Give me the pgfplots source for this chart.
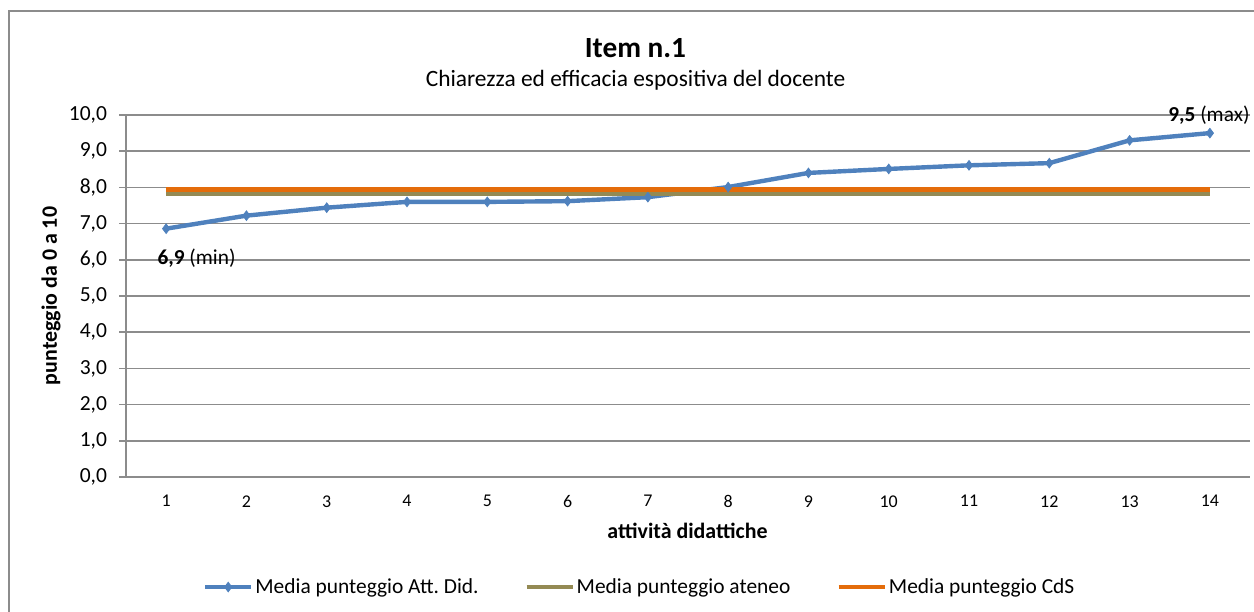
\documentclass[border=0pt]{standalone}
\usepackage{fontspec}
\setmainfont{Carlito}
\usepackage{pgfplots}
\pgfplotsset{compat=1.18}
\definecolor{serieblu}{HTML}{4F81BD}
\definecolor{ateneo}{HTML}{948A54}
\definecolor{cds}{HTML}{E46C0A}
\definecolor{griglia}{HTML}{8C8C8C}
\frenchspacing

\begin{document}
\begin{tikzpicture}[x=1bp,y=1bp]
\useasboundingbox (0,0) rectangle (627,305.5);
% cornice esterna
\draw[griglia, line width=0.75bp] (4.5,-2) -- (4.5,300) -- (630,300);
% titoli
\node[font=\fontsize{14.7}{17}\selectfont\bfseries] at (317.75,281.5) {Item n.1};
\node[font=\fontsize{11.75}{14}\selectfont] at (317.75,265.5) {Chiarezza ed efficacia espositiva del docente};
\node[font=\fontsize{11}{13}\selectfont\bfseries, rotate=90] at (25.5,157.5) {punteggio da 0 a 10};
\node[font=\fontsize{11}{13}\selectfont\bfseries] at (343.75,40) {attività didattiche};

\begin{axis}[
  at={(63bp,67bp)}, anchor=south west,
  scale only axis, width=562bp, height=181bp,
  xmin=0.5, xmax=14.5, ymin=0, ymax=10,
  clip=false,
  ytick={0,1,...,10},
  xtick={1,...,14},
  minor xtick={0.5,1.5,...,14.5},
  tick align=outside,
  xtick style={draw=none},
  minor tick style={griglia, line width=0.75bp},
  minor tick length=3bp,
  ytick style={griglia, line width=0.75bp},
  major tick length=3.5bp,
  axis x line*=bottom, axis y line*=left,
  axis line style={griglia, line width=0.75bp, -},
  ymajorgrids, grid style={griglia, line width=0.75bp},
  /pgf/number format/assume math mode=true,
  y tick label style={font=\fontsize{10.8}{13}\selectfont, xshift=-2.5bp,
    /pgf/number format/.cd, fixed, fixed zerofill, precision=1, use comma},
  x tick label style={font=\fontsize{9}{10}\selectfont, yshift=-2.2bp},
  legend style={at={(0.457,-0.304)}, anchor=center, draw=none, fill=none,
    legend columns=3, font=\fontsize{10.75}{13}\selectfont,
    nodes={inner sep=1bp},
    /tikz/every even column/.append style={column sep=22bp}},
  legend image code/.code={\draw[mark repeat=2,mark phase=2,#1] plot coordinates {(0bp,0bp) (11.5bp,0bp) (23bp,0bp)};},
]
\addplot[serieblu, line width=2.2bp, mark=diamond*, mark size=2.4bp, mark options={solid, line width=0.4bp}] coordinates {
  (1,6.86) (2,7.22) (3,7.44) (4,7.60) (5,7.60) (6,7.62) (7,7.73)
  (8,8.01) (9,8.40) (10,8.51) (11,8.61) (12,8.67) (13,9.30) (14,9.50)
};
\addlegendentry{Media punteggio Att.\ Did.}
\addplot[ateneo, line width=2bp] coordinates {(1,7.81) (14,7.81)};
\addlegendentry{Media punteggio ateneo}
\addplot[cds, line width=2.3bp] coordinates {(1,7.94) (14,7.94)};
\addlegendentry{Media punteggio CdS}
\node[anchor=west, inner sep=0pt, font=\fontsize{10.7}{13}\selectfont, xshift=-4.5bp, yshift=-14.8bp] at (axis cs:1,6.86) {\textbf{6,9} (min)};
\node[anchor=east, inner sep=0pt, font=\fontsize{10.7}{13}\selectfont, xshift=20bp, yshift=8.9bp] at (axis cs:14,9.50) {\textbf{9,5} (max)};
\end{axis}
\end{tikzpicture}
\end{document}
